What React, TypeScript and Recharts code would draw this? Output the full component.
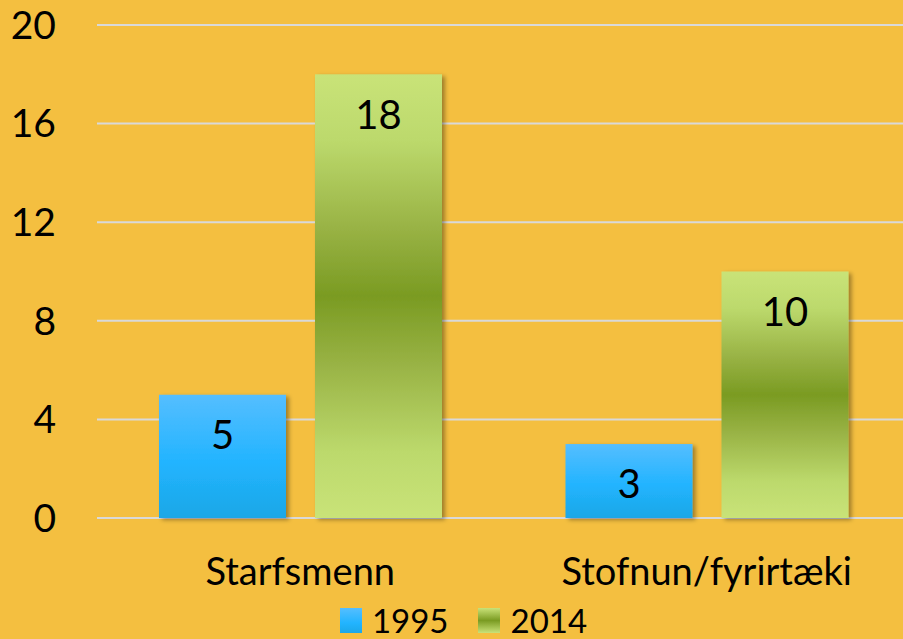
import React from 'react';
import { BarChart, Bar, XAxis, YAxis, CartesianGrid, Legend, LabelList } from 'recharts';

const categories = ['Starfsmenn', 'Stofnun/fyrirtæki'];
const values1995 = [5, 3];
const values2014 = [18, 10];
const seriesNames = ['1995', '2014'];
const yTicks = [0, 4, 8, 12, 16, 20];

const data = categories.map((name, i) => ({ name, v1995: values1995[i], v2014: values2014[i] }));

const FONT = 'Lato, "Open Sans", sans-serif';

const ShadowRect = (props: any) => {
  const { x, y, width, height, fill } = props;
  if (!height || height <= 0) return null;
  return <rect x={x} y={y} width={width} height={height} fill={fill} filter="url(#barShadow)" />;
};

const LegendContent = () => (
  <div
    style={{
      display: 'flex',
      justifyContent: 'center',
      alignItems: 'flex-start',
      height: 38,
      paddingLeft: 24,
      paddingTop: 4,
      boxSizing: 'border-box',
      fontFamily: FONT,
      fontSize: 33,
      color: '#000',
      lineHeight: '30px',
    }}
  >
    <span style={{ display: 'inline-block', width: 22, height: 25, marginTop: 3, marginRight: 10, background: 'linear-gradient(#55BEFF, #22B4FF 60%, #1CA8E8)' }} />
    <span style={{ marginRight: 29 }}>{seriesNames[0]}</span>
    <span style={{ display: 'inline-block', width: 22, height: 25, marginTop: 3, marginRight: 11, background: 'linear-gradient(#C9E278, #7A9B22 50%, #C9E278)' }} />
    <span>{seriesNames[1]}</span>
  </div>
);

export default function App() {
  return (
    <div style={{ position: 'fixed', left: 0, top: 0, width: 903, height: 639, overflow: 'hidden', background: '#F4BF40' }}>
      <BarChart
        width={920}
        height={639}
        data={data}
        margin={{ top: 25, right: 10, bottom: 0, left: 0 }}
        barGap={29}
        barSize={127}
      >
        <defs>
          <linearGradient id="grad1995" x1="0" y1="0" x2="0" y2="1">
            <stop offset="0%" stopColor="#55BEFF" />
            <stop offset="55%" stopColor="#22B4FF" />
            <stop offset="100%" stopColor="#1BA7E6" />
          </linearGradient>
          <linearGradient id="grad2014" x1="0" y1="0" x2="0" y2="1">
            <stop offset="0%" stopColor="#C9E378" />
            <stop offset="15%" stopColor="#BCD96C" />
            <stop offset="35%" stopColor="#98B244" />
            <stop offset="50%" stopColor="#7A9B22" />
            <stop offset="65%" stopColor="#98B244" />
            <stop offset="85%" stopColor="#BCD96C" />
            <stop offset="100%" stopColor="#C9E378" />
          </linearGradient>
          <filter id="barShadow" x="-10%" y="-10%" width="130%" height="130%">
            <feDropShadow dx="3" dy="2" stdDeviation="2" floodColor="#000" floodOpacity="0.35" />
          </filter>
        </defs>
        <CartesianGrid vertical={false} stroke="#D9D9D9" strokeWidth={2} />
        <XAxis
          dataKey="name"
          axisLine={false}
          tickLine={false}
          tickSize={0}
          tickMargin={40}
          height={83}
          interval={0}
          tick={{ fill: '#000', fontSize: 38, fontFamily: FONT }}
        />
        <YAxis
          domain={[0, 20]}
          ticks={yTicks}
          axisLine={false}
          tickLine={false}
          tickSize={0}
          tickMargin={41}
          width={97}
          tick={{ fill: '#000', fontSize: 39, fontFamily: FONT }}
        />
        <Legend verticalAlign="bottom" content={<LegendContent />} wrapperStyle={{ bottom: 0, left: 0, width: 903, height: 38 }} />
        <Bar dataKey="v1995" name={seriesNames[0]} fill="url(#grad1995)" shape={<ShadowRect />} isAnimationActive={false}>
          <LabelList dataKey="v1995" position="insideTop" offset={26} fill="#000" fontSize={40} fontFamily={FONT} />
        </Bar>
        <Bar dataKey="v2014" name={seriesNames[1]} fill="url(#grad2014)" shape={<ShadowRect />} isAnimationActive={false}>
          <LabelList dataKey="v2014" position="insideTop" offset={26} fill="#000" fontSize={40} fontFamily={FONT} />
        </Bar>
      </BarChart>
    </div>
  );
}
